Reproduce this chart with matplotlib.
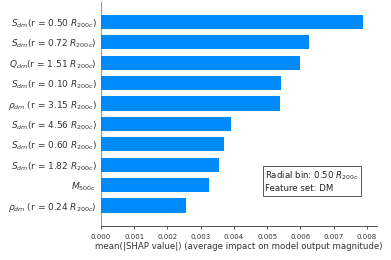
import matplotlib
matplotlib.use("Agg")
import matplotlib.pyplot as plt
import numpy as np

# features ordered top -> bottom
features = [r'$S_{dm}$(r = 0.50 $R_{200c}$)',
            r'$S_{dm}$(r = 0.72 $R_{200c}$)',
            r'$Q_{dm}$(r = 1.51 $R_{200c}$)',
            r'$S_{dm}$(r = 0.10 $R_{200c}$)',
            r'$\rho_{dm}$ (r = 3.15 $R_{200c}$)',
            r'$S_{dm}$(r = 4.56 $R_{200c}$)',
            r'$S_{dm}$(r = 0.60 $R_{200c}$)',
            r'$S_{dm}$(r = 1.82 $R_{200c}$)',
            r'$M_{500c}$',
            r'$\rho_{dm}$ (r = 0.24 $R_{200c}$)']
shap_vals = [0.00789, 0.00627, 0.00599, 0.00543, 0.00539,
             0.00391, 0.00371, 0.00356, 0.00326, 0.00255]

fig = plt.figure(figsize=(3.91, 2.60), dpi=100)
ax = fig.add_axes([0.258, 0.131, 0.706, 0.863])

n = len(features)
ypos = np.arange(n)[::-1]
ax.barh(ypos, shap_vals, height=0.7, color='#008bfb', align='center')
ax.set_yticks(ypos)
ax.set_yticklabels(features, fontsize=6.5, color='#333333')
ax.set_ylim(-1, n)
ax.set_xlim(0, 0.0083)
ax.set_xticks(np.arange(0, 0.0081, 0.001))
ax.set_xticklabels(['%.3f' % v for v in np.arange(0, 0.0081, 0.001)])
ax.tick_params(axis='x', labelsize=5, colors='#333333', length=2.5, width=0.6)
ax.tick_params(axis='y', length=0, pad=3)
ax.axvline(0, color='#999999', lw=0.8, zorder=-1)

for s in ['top', 'right', 'left']:
    ax.spines[s].set_visible(False)
ax.spines['bottom'].set_color('#333333')
ax.spines['bottom'].set_linewidth(0.6)

ax.set_xlabel('mean(|SHAP value|) (average impact on model output magnitude)',
              fontsize=6.2, color='#333333', labelpad=1.5)

ax.text(0.595, 0.145, 'Radial bin: 0.50 $R_{200c}$\nFeature set: DM',
        transform=ax.transAxes, fontsize=6.2, color='#222222', va='bottom', ha='left',
        linespacing=1.3,
        bbox=dict(boxstyle='square,pad=0.3', facecolor='white', edgecolor='#555555', lw=0.7))

fig.savefig('out.png', dpi=100)
